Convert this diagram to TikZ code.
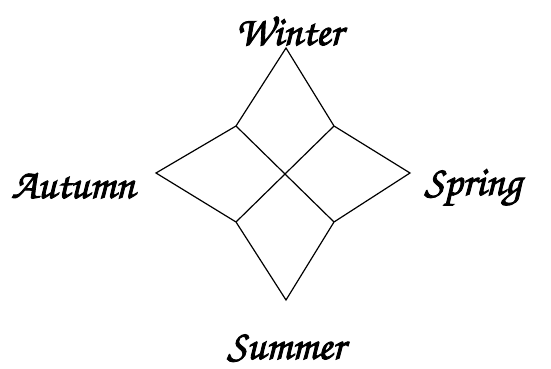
\documentclass[tikz,border=0pt]{standalone}
\usepackage[T1]{fontenc}
\newcommand\fakebold[1]{\special{pdf:literal 2 Tr 0.9 w}#1\special{pdf:literal 0 Tr 0 w}}
\tikzset{season/.style={font=\fontfamily{pzc}\fontseries{m}\fontshape{it}\fontsize{42}{48}\selectfont, inner sep=0pt, anchor=base},
  edge/.style={line width=1.2pt, line join=miter}}
\begin{document}
\begin{tikzpicture}[x=1pt,y=-1pt]
\useasboundingbox (0,0) rectangle (551,369);
\coordinate (T) at (286,48);
\coordinate (R) at (410,173);
\coordinate (B) at (286,300);
\coordinate (L) at (156,173);
\coordinate (TL) at (236,126);
\coordinate (TR) at (334,126);
\coordinate (BR) at (334,222);
\coordinate (BL) at (236,222);
\draw[edge] (T) -- (TR) -- (R) -- (BR) -- (B) -- (BL) -- (L) -- (TL) -- cycle;
\draw[edge] (TL) -- (BR);
\draw[edge] (TR) -- (BL);
\node[season] (w) at (289,45) {\fakebold{Winter}};
\node[season] (a) at (73,198) {\fakebold{Autumn}};
\node[season] (s) at (473,195) {\fakebold{Spring}};
\node[season] (u) at (286,359) {\fakebold{Summer}};
\end{tikzpicture}
\end{document}
